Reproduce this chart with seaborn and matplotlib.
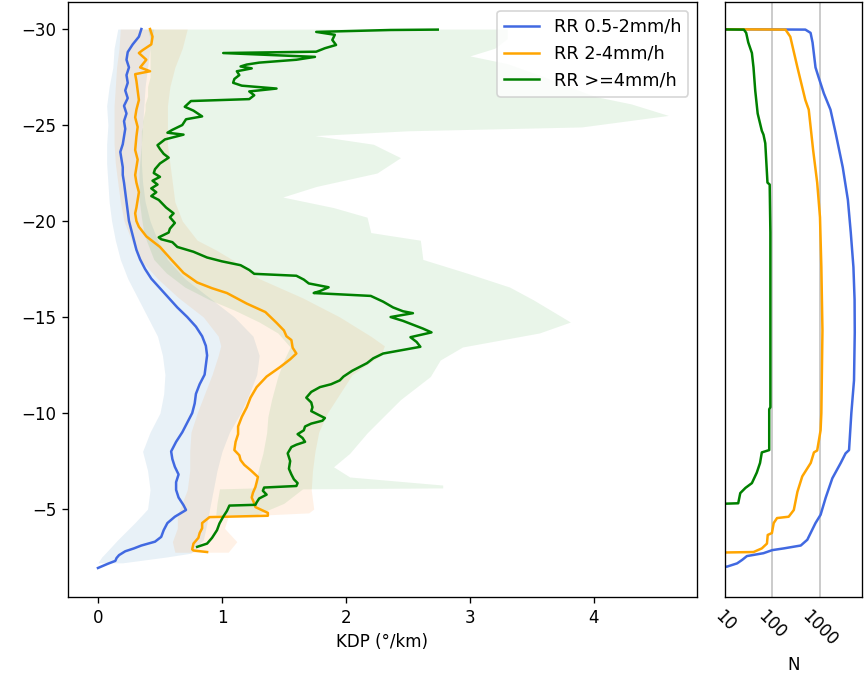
import matplotlib
matplotlib.use("Agg")
import matplotlib.pyplot as plt
import seaborn as sns
import numpy as np
import pandas as pd

# ---------------- data ----------------
labels = ["RR 0.5-2mm/h", "RR 2-4mm/h", "RR >=4mm/h"]
colors = ["royalblue", "orange", "green"]
band_colors = ["tab:blue", "tab:orange", "tab:green"]

blue_T = [-30.0, -29.6, -29.2, -28.8, -28.4, -28.0, -27.6, -27.2, -26.8, -26.4, -26.0, -25.6,
          -25.2, -24.8, -24.4, -24.0, -23.6, -23.2, -22.8, -22.4, -22.0, -21.5, -21.0, -20.5,
          -20.0, -19.5, -19.0, -18.5, -18.0, -17.5, -17.0, -16.5, -16.0, -15.5, -15.0, -14.5,
          -14.0, -13.5, -13.0, -12.5, -12.0, -11.5, -11.0, -10.5, -10.0, -9.5, -9.0, -8.5,
          -8.0, -7.6, -7.2, -6.8, -6.4, -6.0, -5.6, -5.2, -4.95, -4.6, -4.27, -3.9, -3.55,
          -3.3, -3.1, -2.95, -2.8, -2.6, -2.45, -2.3, -2.15, -1.93]
blue_kdp = [0.35, 0.33, 0.28, 0.24, 0.23, 0.25, 0.23, 0.24, 0.22, 0.24, 0.21, 0.23,
            0.21, 0.22, 0.21, 0.20, 0.18, 0.19, 0.20, 0.20, 0.21, 0.22, 0.23, 0.24,
            0.25, 0.27, 0.29, 0.31, 0.34, 0.38, 0.43, 0.50, 0.57, 0.64, 0.72, 0.79,
            0.84, 0.87, 0.88, 0.87, 0.86, 0.82, 0.79, 0.78, 0.76, 0.72, 0.68, 0.63,
            0.59, 0.60, 0.62, 0.65, 0.63, 0.63, 0.65, 0.69, 0.71, 0.62, 0.56, 0.53, 0.51,
            0.46, 0.35, 0.29, 0.22, 0.17, 0.15, 0.14, 0.08, 0.0]

orange_T = [-30.0, -29.6, -29.2, -28.9, -28.75, -28.4, -28.0, -27.8, -27.65, -27.3, -26.8,
            -26.3, -25.8, -25.4, -24.9, -24.4, -23.7, -23.2, -22.8, -22.4, -22.0, -21.5,
            -21.1, -20.7, -20.4, -20.0, -19.7, -19.2, -18.65, -18.0, -17.3, -16.8, -16.5,
            -16.25, -15.7, -15.26, -14.7, -14.3, -14.0, -13.8, -13.4, -13.1, -12.8, -12.4,
            -11.9, -11.35, -10.8, -10.3, -9.8, -9.3, -8.9, -8.5, -8.07, -7.8, -7.55, -7.3,
            -7.03, -6.67, -6.4, -6.15, -5.85, -5.6, -5.3, -5.1, -4.8, -4.65, -4.58, -4.27,
            -4.0, -3.75, -3.5, -3.2, -2.9, -2.84, -2.76]
orange_kdp = [0.42, 0.44, 0.43, 0.36, 0.33, 0.39, 0.34, 0.42, 0.30, 0.31, 0.32,
              0.33, 0.31, 0.30, 0.32, 0.31, 0.30, 0.32, 0.31, 0.30, 0.31, 0.33,
              0.32, 0.31, 0.30, 0.31, 0.33, 0.39, 0.50, 0.59, 0.69, 0.80, 0.92,
              1.04, 1.20, 1.35, 1.44, 1.50, 1.52, 1.56, 1.57, 1.60, 1.55, 1.47,
              1.36, 1.28, 1.23, 1.20, 1.16, 1.13, 1.13, 1.11, 1.10, 1.14, 1.15, 1.18,
              1.23, 1.29, 1.28, 1.27, 1.25, 1.24, 1.26, 1.27, 1.37, 1.37, 0.90, 0.84,
              0.84, 0.82, 0.81, 0.77, 0.76, 0.77, 0.88]

green_T = [-29.97, -29.95, -29.85, -29.7, -29.43, -29.17, -29.0, -28.82, -28.75, -28.55,
           -28.4, -28.25, -28.15, -28.05, -27.95, -27.8, -27.6, -27.4, -27.2, -27.05, -26.9,
           -26.75, -26.55, -26.35, -26.25, -25.95, -25.75, -25.45, -25.3, -25.0, -24.75,
           -24.6, -24.5, -24.25, -23.95, -23.75, -23.5, -23.3, -23.0, -22.7, -22.5, -22.3,
           -22.1, -21.9, -21.7, -21.5, -21.3, -21.1, -20.9, -20.7, -20.4, -20.2, -19.9,
           -19.6, -19.4, -19.15, -19.05, -18.9, -18.65, -18.4, -18.1, -17.9, -17.7, -17.45,
           -17.25, -17.15, -16.95, -16.75, -16.55, -16.35, -16.25, -16.1, -15.8, -15.5,
           -15.3, -15.2, -15.0, -14.8, -14.6, -14.4, -14.2, -13.95, -13.7, -13.45, -13.1,
           -12.85, -12.6, -12.2, -11.9, -11.7, -11.5, -11.35, -11.1, -10.8, -10.55, -10.3,
           -10.1, -9.9, -9.74, -9.6, -9.45, -9.3, -9.1, -8.9, -8.7, -8.5, -8.35, -8.23,
           -7.9, -7.5, -7.1, -6.8, -6.55, -6.35, -6.2, -6.12, -5.95, -5.75, -5.55, -5.35,
           -5.22, -5.18, -4.9, -4.6, -4.25, -3.9, -3.5, -3.2, -3.03]
green_kdp = [2.74, 2.36, 1.76, 1.91, 1.89, 1.92, 1.83, 1.76, 1.01, 1.75,
             1.60, 1.30, 1.20, 1.15, 1.24, 1.12, 1.14, 1.10, 1.09, 1.16, 1.44,
             1.22, 1.26, 1.22, 0.75, 0.70, 0.77, 0.84, 0.71, 0.68, 0.60,
             0.56, 0.69, 0.54, 0.48, 0.50, 0.53, 0.57, 0.50, 0.46, 0.45, 0.50,
             0.44, 0.48, 0.43, 0.47, 0.43, 0.49, 0.52, 0.55, 0.61, 0.58, 0.62,
             0.58, 0.57, 0.49, 0.51, 0.60, 0.64, 0.77, 0.88, 1.00, 1.15, 1.22,
             1.26, 1.60, 1.66, 1.70, 1.86, 1.79, 1.74, 2.20, 2.30, 2.38,
             2.46, 2.54, 2.36, 2.46, 2.54, 2.62, 2.69, 2.52, 2.57, 2.60, 2.30,
             2.22, 2.17, 2.05, 1.98, 1.95, 1.88, 1.79, 1.72, 1.68, 1.72, 1.73,
             1.72, 1.78, 1.83, 1.81, 1.72, 1.67, 1.66, 1.61, 1.65, 1.67, 1.60, 1.56,
             1.53, 1.55, 1.54, 1.56, 1.58, 1.61, 1.60, 1.34, 1.33, 1.36, 1.30, 1.28,
             1.27, 1.06, 1.04, 1.01, 0.98, 0.96, 0.92, 0.88, 0.80]

# spread bands (lower / upper KDP)
blue_band_T = [-30, -29, -28, -27, -26, -25, -24, -23, -22, -21, -20, -19, -18, -17, -16,
               -15, -14, -13, -12, -11, -10, -9, -8, -7, -6, -5, -4.3, -3.4, -2.7, -2.5, -2.2]
blue_lo = [0.16, 0.13, 0.12, 0.09, 0.07, 0.08, 0.07, 0.07, 0.08, 0.09, 0.11, 0.14, 0.18, 0.24, 0.32,
           0.40, 0.48, 0.52, 0.54, 0.53, 0.50, 0.42, 0.36, 0.40, 0.42, 0.40, 0.30, 0.16, 0.06, 0.03, 0.0]
blue_hi = [0.45, 0.42, 0.40, 0.38, 0.37, 0.36, 0.35, 0.35, 0.36, 0.38, 0.42, 0.48, 0.56, 0.70, 0.90,
           1.10, 1.25, 1.30, 1.28, 1.22, 1.15, 1.06, 1.00, 0.96, 0.93, 0.90, 0.88, 0.85, 0.75, 0.55, 0.2]

orange_band_T = [-30, -29, -28, -27, -26, -25, -24, -23, -22, -21, -20, -19, -18.5, -18, -17,
                 -16, -15, -14, -13.5, -13, -12, -11, -10, -9, -8, -7, -6, -5, -4.8, -4.6, -4.0,
                 -3.3, -2.75]
orange_lo = [0.18, 0.17, 0.15, 0.14, 0.13, 0.13, 0.13, 0.14, 0.16, 0.18, 0.21, 0.27, 0.30, 0.34, 0.48,
             0.65, 0.85, 0.97, 0.99, 0.97, 0.92, 0.86, 0.80, 0.75, 0.74, 0.74, 0.72, 0.66, 0.65, 0.64, 0.64,
             0.60, 0.62]
orange_hi = [0.72, 0.68, 0.62, 0.58, 0.56, 0.56, 0.56, 0.58, 0.60, 0.62, 0.68, 0.80, 0.95, 1.08, 1.30,
             1.65, 1.95, 2.20, 2.31, 2.28, 2.05, 1.95, 1.85, 1.78, 1.75, 1.73, 1.72, 1.74, 1.70, 1.05, 1.02,
             1.12, 1.05]

green_band_T = [-30.0, -29.5, -29.0, -28.6, -28.2, -27.5, -27.0, -26.5, -26.1, -25.8, -25.5, -25.2,
                -24.9, -24.7, -24.45, -24.0, -23.3, -22.5, -21.8, -21.25, -20.7, -20.2, -19.4, -19.0,
                -18.0, -17.3, -16.56, -15.9, -15.36, -14.74, -14.17, -13.44, -12.76, -11.9, -10.7,
                -9.8, -8.96, -7.9, -7.2, -6.67, -6.25, -6.1, -6.05, -5.3, -4.7]
green_lo = [0.40, 0.42, 0.42, 0.42, 0.42, 0.42, 0.40, 0.40, 0.38, 0.38, 0.37, 0.36,
            0.36, 0.35, 0.35, 0.35, 0.34, 0.33, 0.33, 0.33, 0.34, 0.35, 0.37, 0.39,
            0.45, 0.55, 0.70, 0.90, 1.10, 1.30, 1.45, 1.55, 1.50, 1.45, 1.40,
            1.37, 1.36, 1.33, 1.30, 1.28, 1.27, 1.27, 0.98, 0.96, 0.95]
green_hi = [3.30, 3.30, 3.20, 3.00, 3.30, 3.60, 3.80, 4.00, 4.30, 4.45, 4.60, 4.25,
            3.90, 2.50, 1.75, 2.22, 2.44, 2.25, 1.76, 1.49, 1.90, 2.17, 2.20, 2.60,
            2.62, 2.97, 3.32, 3.51, 3.65, 3.81, 3.56, 2.94, 2.76, 2.68, 2.44,
            2.30, 2.17, 2.03, 1.90, 2.03, 2.78, 2.78, 1.65, 1.50, 1.28]

# number of samples per level
blue_nT = [-30.0, -29.97, -29.8, -29.3, -28.0, -27.5, -26.65, -25.8, -24.6, -22.8, -21.1, -19.4,
           -17.6, -15.9, -14.2, -11.7, -10.0, -8.07, -7.9, -7.4, -6.6, -5.6, -4.7, -4.27, -3.4,
           -3.1, -2.95, -2.86, -2.7, -2.55, -2.35, -2.17, -2.0, -1.93]
blue_N = [1, 500, 645, 710, 820, 950, 1230, 1700, 2180, 3090, 3970, 4570,
          5200, 5500, 5550, 5350, 4700, 4200, 3550, 2800, 1860, 1350, 1050, 820, 550,
          400, 175, 100, 65, 29, 23, 18, 11, 1]
orange_nT = [-30.0, -29.97, -29.6, -28.0, -26.3, -25.8, -23.7, -22.0, -20.2, -17.6, -14.3, -10.0,
             -9.1, -8.05, -7.95, -7.4, -6.7, -5.9, -4.95, -4.6, -4.53, -4.27, -3.75, -3.65, -3.2,
             -2.95, -2.76, -2.7]
orange_N = [1, 190, 240, 340, 500, 590, 730, 890, 1020, 1090, 1150, 1090,
            1050, 890, 760, 650, 430, 340, 285, 222, 126, 107, 98, 80, 77,
            60, 40, 1]
green_nT = [-30.0, -29.97, -29.8, -29.3, -28.75, -28.0, -26.8, -25.6, -24.7, -24.5, -24.05, -22.0,
            -21.9, -19.4, -10.3, -10.2, -8.07, -7.95, -7.4, -6.9, -6.35, -6.1, -5.83, -5.3, -5.2]
green_N = [1, 25, 28, 31, 37, 40, 43.5, 49, 60, 65, 71, 79,
           88, 91, 91, 86, 86, 60, 55, 47, 37, 27, 21, 19, 1]

# ---------------- figure ----------------
fig = plt.figure(figsize=(868 / 120, 675 / 120), dpi=120)
ax = fig.add_axes([0.0783, 0.1156, 0.7247, 0.8815])
ax2 = fig.add_axes([0.8353, 0.1156, 0.1578, 0.8815])

bands = [(blue_band_T, blue_lo, blue_hi), (orange_band_T, orange_lo, orange_hi),
         (green_band_T, green_lo, green_hi)]
for (bt, lo, hi), c in zip(bands, band_colors):
    ax.fill_betweenx(bt, lo, hi, color=c, alpha=0.1, linewidth=0)

profiles = [(blue_T, blue_kdp), (orange_T, orange_kdp), (green_T, green_kdp)]
for (t, k), c, lab in zip(profiles, colors, labels):
    df = pd.DataFrame({"KDP": k, "T": t})
    sns.lineplot(data=df, x="KDP", y="T", sort=False, estimator=None, color=c,
                 label=lab, ax=ax, lw=1.5)

ax.set_xlim(-0.242, 4.831)
ax.set_ylim(-0.42, -31.41)
ax.set_xticks([0, 1, 2, 3, 4])
ax.set_yticks([-30, -25, -20, -15, -10, -5])
ax.set_xlabel("KDP (°/km)")
ax.set_ylabel("")
ax.legend(loc="upper right", fontsize=10.6)

counts = [(blue_nT, blue_N), (orange_nT, orange_N), (green_nT, green_N)]
for (t, n), c in zip(counts, colors):
    df = pd.DataFrame({"N": n, "T": t})
    sns.lineplot(data=df, x="N", y="T", sort=False, estimator=None, color=c, ax=ax2, lw=1.5)

ax2.set_xscale("log")
ax2.set_xlim(10, 7900)
ax2.set_ylim(-0.42, -31.41)
ax2.set_xticks([10, 100, 1000])
ax2.set_xticklabels(["10", "100", "1000"], rotation=-45, ha="center")
ax2.xaxis.set_minor_locator(matplotlib.ticker.NullLocator())
ax2.tick_params(axis="x", length=0, pad=6)
ax2.tick_params(axis="y", left=False, labelleft=False)
ax2.grid(axis="x", color="0.8", lw=1.2)
ax2.set_axisbelow(True)
ax2.set_xlabel("N")
ax2.set_ylabel("")

fig.savefig("out.png", dpi=120)
